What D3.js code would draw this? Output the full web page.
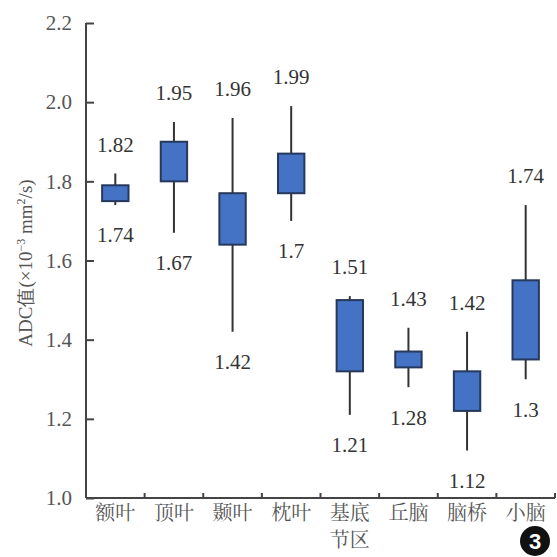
<!DOCTYPE html>
<html>
<head>
<meta charset="utf-8">
<script src="https://cdn.jsdelivr.net/npm/d3@7"></script>
<style>
  html, body { margin: 0; padding: 0; background: #fff; }
  svg { display: block; }
</style>
</head>
<body>
<script>
const categories = ["额叶", "顶叶", "颞叶", "枕叶", "基底节区", "丘脑", "脑桥", "小脑"];
const whiskerMax = [1.82, 1.95, 1.96, 1.99, 1.51, 1.43, 1.42, 1.74];
const boxTop     = [1.79, 1.90, 1.77, 1.87, 1.50, 1.37, 1.32, 1.55];
const boxBottom  = [1.75, 1.80, 1.64, 1.77, 1.32, 1.33, 1.22, 1.35];
const whiskerMin = [1.74, 1.67, 1.42, 1.70, 1.21, 1.28, 1.12, 1.30];
const yTicks = [1.0, 1.2, 1.4, 1.6, 1.8, 2.0, 2.2];

const W = 557, H = 557;
const svg = d3.select("body").append("svg").attr("width", W).attr("height", H);

const x = d3.scaleBand().domain(categories).range([86, 555]).padding(0);
const y = d3.scaleLinear().domain([1.0, 2.2]).range([498, 23]);

const serif = "'Liberation Serif', 'DejaVu Serif', serif";
const axisColor = "#444";

// Y axis
const yAxis = svg.append("g").attr("transform", "translate(86,0)")
  .call(d3.axisRight(y).tickValues(yTicks).tickSize(8).tickFormat(d3.format(".1f")));
yAxis.select(".domain").attr("stroke", axisColor).attr("stroke-width", 2).attr("d", `M0,${y(2.2)}V${y(1.0)}`);
yAxis.selectAll(".tick line").attr("stroke", axisColor).attr("stroke-width", 2);
yAxis.selectAll(".tick text")
  .attr("x", -14).attr("text-anchor", "end")
  .attr("font-family", serif).attr("font-size", 21).attr("fill", "#555");

// X axis
const xg = svg.append("g");
xg.append("line").attr("x1", 86).attr("x2", 555).attr("y1", y(1.0)).attr("y2", y(1.0))
  .attr("stroke", axisColor).attr("stroke-width", 2);
xg.selectAll("line.tk").data(categories).enter().append("line").attr("class", "tk")
  .attr("x1", d => x(d) + x.bandwidth()).attr("x2", d => x(d) + x.bandwidth())
  .attr("y1", y(1.0)).attr("y2", y(1.0) - 5)
  .attr("stroke", axisColor).attr("stroke-width", 2);

const labelLines = [];
categories.forEach(c => {
  const parts = c.length > 2 ? [c.slice(0, 2), c.slice(2)] : [c];
  parts.forEach((p, i) => labelLines.push({ c, text: p, line: i }));
});
xg.selectAll("text.xl").data(labelLines).enter().append("text").attr("class", "xl")
  .attr("x", d => x(d.c) + x.bandwidth() / 2)
  .attr("y", d => 513 + d.line * 27)
  .attr("dy", "0.35em")
  .attr("text-anchor", "middle")
  .attr("font-family", "'Noto Serif CJK SC', 'Noto Sans CJK SC', serif")
  .attr("font-size", 20).attr("fill", "#555")
  .text(d => d.text);

// Y axis title
const yt = svg.append("text")
  .attr("transform", "translate(32,263) rotate(-90)")
  .attr("text-anchor", "middle")
  .attr("font-family", serif).attr("font-size", 19).attr("fill", "#555");
yt.append("tspan").text("ADC值(×10");
yt.append("tspan").attr("font-size", 12).attr("dy", -7).text("−3");
yt.append("tspan").attr("dy", 7).text(" mm");
yt.append("tspan").attr("font-size", 12).attr("dy", -7).text("2");
yt.append("tspan").attr("dy", 7).text("/s)");

// Boxes
const data = categories.map((c, i) => ({ c, max: whiskerMax[i], q3: boxTop[i], q1: boxBottom[i], min: whiskerMin[i] }));
const boxW = x.bandwidth() * 0.45;
const g = svg.append("g");
const items = g.selectAll("g.box").data(data).enter().append("g").attr("class", "box");

items.append("line")
  .attr("x1", d => x(d.c) + x.bandwidth() / 2).attr("x2", d => x(d.c) + x.bandwidth() / 2)
  .attr("y1", d => y(d.max)).attr("y2", d => y(d.min))
  .attr("stroke", "#333").attr("stroke-width", 2);

items.append("rect")
  .attr("x", d => x(d.c) + (x.bandwidth() - boxW) / 2)
  .attr("width", boxW)
  .attr("y", d => y(d.q3))
  .attr("height", d => y(d.q1) - y(d.q3))
  .attr("fill", "#4472C4").attr("stroke", "#26385c").attr("stroke-width", 2);

items.append("text")
  .attr("x", d => x(d.c) + x.bandwidth() / 2)
  .attr("y", d => y(d.max) - 29)
  .attr("dy", "0.35em")
  .attr("text-anchor", "middle")
  .attr("font-family", serif).attr("font-size", 21).attr("fill", "#333")
  .text(d => String(d.max));

items.append("text")
  .attr("x", d => x(d.c) + x.bandwidth() / 2)
  .attr("y", d => y(d.min) + 30)
  .attr("dy", "0.35em")
  .attr("text-anchor", "middle")
  .attr("font-family", serif).attr("font-size", 21).attr("fill", "#333")
  .text(d => String(d.min));

// Panel marker
svg.append("circle").attr("cx", 535).attr("cy", 541).attr("r", 15).attr("fill", "#111");
svg.append("text").attr("x", 535).attr("y", 541).attr("dy", "0.36em")
  .attr("text-anchor", "middle")
  .attr("font-family", "'Liberation Sans', Arial, sans-serif").attr("font-weight", "bold")
  .attr("font-size", 22).attr("fill", "#fff").text("3");
</script>
</body>
</html>
